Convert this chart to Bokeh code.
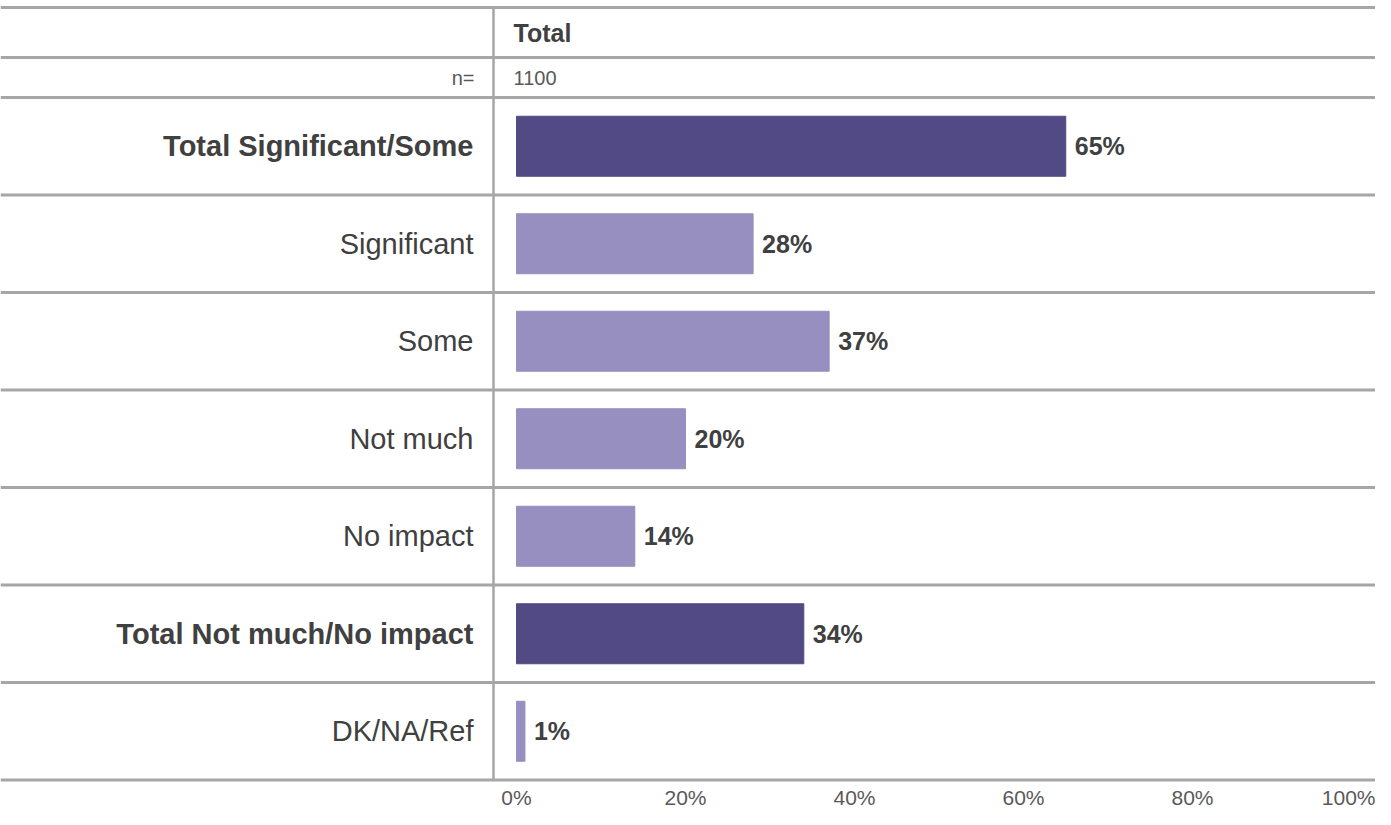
from bokeh.plotting import figure
from bokeh.models import ColumnDataSource, Range1d, FixedTicker
from bokeh.core.properties import value
from bokeh.embed import file_html
from bokeh.resources import INLINE

# ---------------- data ----------------
categories = ["Total Significant/Some", "Significant", "Some", "Not much",
              "No impact", "Total Not much/No impact", "DK/NA/Ref"]
values = [65, 28, 37, 20, 14, 34, 1]
is_net = [True, False, False, False, False, True, False]
column_header = "Total"
base_label = "n="
base_value = "1100"
tick_values = [0, 20, 40, 60, 80, 100]
tick_labels = ["0%", "20%", "40%", "60%", "80%", "100%"]

# ---------------- style ----------------
DARK = "#524A85"
LIGHT = "#968FBF"
RULE = "#A6A6A6"
TEXT = "#404040"
SOFT = "#595959"
FONT = "Liberation Sans"

FW, FH = 1375, 784
PX_PER_PCT = 8.45          # pixels per percentage point
ZERO_PX = 516              # pixel offset of 0% inside the frame
x_start = -ZERO_PX / PX_PER_PCT
x_end = x_start + FW / PX_PER_PCT

n = len(categories)
rows = list(range(n))
row_px = 97.5
first_row_px = 97
y_top = -0.5 - first_row_px / row_px
y_bottom = -0.5 + (FH - first_row_px) / row_px
hdr_top = -0.5 - (first_row_px - 7) / row_px     # top rule of the table
n_top = -0.5 - (first_row_px - 57) / row_px     # rule between header and n= row

p = figure(frame_width=FW, frame_height=FH,
           x_range=Range1d(x_start, x_end),
           y_range=Range1d(y_bottom, y_top),
           output_backend="svg", toolbar_location=None,
           y_axis_location=None, min_border=0)
p.grid.visible = False
p.outline_line_color = None
p.background_fill_color = "white"
p.border_fill_color = "white"

# bottom axis with percentage ticks
ax = p.xaxis[0]
ax.ticker = FixedTicker(ticks=tick_values)
ax.major_label_overrides = {v: l for v, l in zip(tick_values, tick_labels)}
ax.axis_line_color = None
ax.major_tick_line_color = None
ax.minor_tick_line_color = None
ax.major_tick_out = 0
ax.major_tick_in = 0
ax.major_label_standoff = 1
ax.major_label_text_font = FONT
ax.major_label_text_font_size = "21px"
ax.major_label_text_color = SOFT

# table rules
rule_ys = [hdr_top, n_top, -0.5] + [r + 0.5 for r in rows]
p.segment(x0=[x_start] * len(rule_ys), x1=[x_end] * len(rule_ys),
          y0=rule_ys, y1=rule_ys, line_color=RULE, line_width=3)
div_x = -23 / PX_PER_PCT
p.segment(x0=[div_x], x1=[div_x], y0=[hdr_top], y1=[n - 0.5],
          line_color=RULE, line_width=2.5)

# bars
colors = [DARK if t else LIGHT for t in is_net]
src = ColumnDataSource(dict(y=rows, v=values, c=colors,
                            cat=categories,
                            lab=[f"{v}%" for v in values]))
p.hbar(y="y", left=0, right="v", height=60 / row_px, color="c", source=src)

# value labels
p.text(x="v", y="y", text="lab", source=src, x_offset=9,
       text_align="left", text_baseline="middle",
       text_font=value(FONT), text_font_style="bold",
       text_font_size="25px", text_color=TEXT)

# category labels
lab_x = -43 / PX_PER_PCT
net_rows = [r for r in rows if is_net[r]]
reg_rows = [r for r in rows if not is_net[r]]
p.text(x=[lab_x] * len(net_rows), y=net_rows,
       text=[categories[r] for r in net_rows],
       text_align="right", text_baseline="middle",
       text_font=value(FONT), text_font_style="bold",
       text_font_size="29px", text_color=TEXT)
p.text(x=[lab_x] * len(reg_rows), y=reg_rows,
       text=[categories[r] for r in reg_rows],
       text_align="right", text_baseline="middle",
       text_font=value(FONT), text_font_size="29px", text_color=TEXT)

# header rows
hdr_mid = (hdr_top + n_top) / 2
n_mid = (n_top - 0.5) / 2
p.text(x=[-3 / PX_PER_PCT], y=[hdr_mid], text=[column_header],
       text_align="left", text_baseline="middle",
       text_font=value(FONT), text_font_style="bold",
       text_font_size="25px", text_color=TEXT)
p.text(x=[-42 / PX_PER_PCT], y=[n_mid], text=[base_label],
       text_align="right", text_baseline="middle",
       text_font=value(FONT), text_font_size="20px", text_color=SOFT)
p.text(x=[-3 / PX_PER_PCT], y=[n_mid], text=[base_value],
       text_align="left", text_baseline="middle",
       text_font=value(FONT), text_font_size="20px", text_color=SOFT)

open("out.html", "w").write(file_html(p, INLINE))
